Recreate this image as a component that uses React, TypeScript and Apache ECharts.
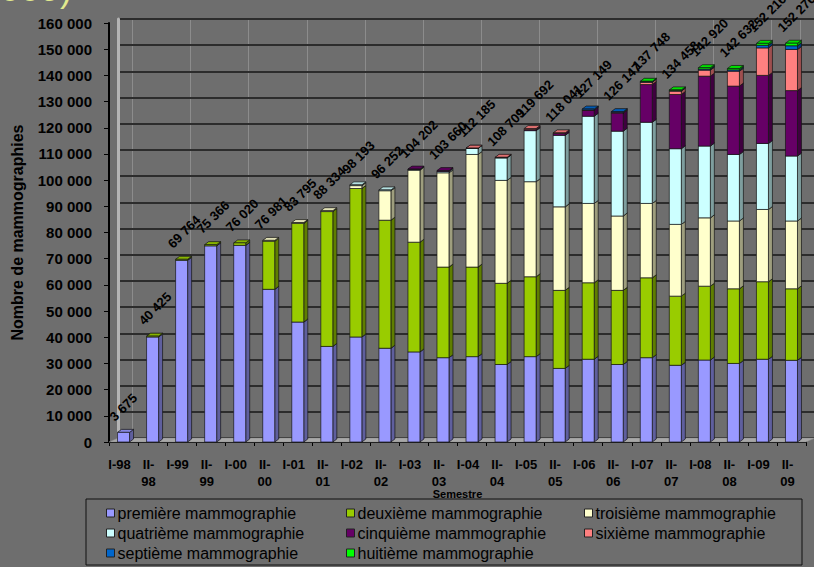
import { useEffect, useRef } from 'react';
import * as echarts from 'echarts';

// Semesters on the category axis
const semestres = [
  'I-98', 'II-98', 'I-99', 'II-99', 'I-00', 'II-00', 'I-01', 'II-01',
  'I-02', 'II-02', 'I-03', 'II-03', 'I-04', 'II-04', 'I-05', 'II-05',
  'I-06', 'II-06', 'I-07', 'II-07', 'I-08', 'II-08', 'I-09', 'II-09',
];

// Number of mammographies per rank, per semester
const premiere = [3675, 40100, 69400, 74900, 75100, 58300, 45800, 36500, 40100, 35800, 34400, 32200, 32600, 29600, 32600, 28100, 31600, 29600, 32200, 29300, 31300, 30000, 31600, 31200];
const deuxieme = [0, 325, 364, 466, 920, 18400, 37700, 51500, 56700, 48900, 41900, 34600, 34200, 31000, 30500, 29800, 29200, 28300, 30500, 26400, 28200, 28500, 29600, 27300];
const troisieme = [0, 0, 0, 0, 0, 281, 295, 334, 1100, 11250, 27500, 36000, 43000, 39300, 36300, 31900, 30300, 28400, 28400, 27400, 26100, 25900, 27600, 25900];
const quatrieme = [0, 0, 0, 0, 0, 0, 0, 0, 293, 302, 250, 500, 2300, 8600, 19500, 27300, 33300, 32400, 31000, 28900, 27400, 25400, 25200, 24800];
const cinquieme = [0, 0, 0, 0, 0, 0, 0, 0, 0, 0, 152, 360, 40, 100, 400, 750, 2300, 6900, 14400, 20700, 26700, 26100, 26000, 25000];
const sixieme = [0, 0, 0, 0, 0, 0, 0, 0, 0, 0, 0, 0, 45, 109, 392, 191, 100, 300, 900, 1300, 2300, 5700, 10500, 15700];
const septieme = [0, 0, 0, 0, 0, 0, 0, 0, 0, 0, 0, 0, 0, 0, 0, 0, 349, 247, 200, 200, 400, 500, 1000, 1400];
const huitieme = [0, 0, 0, 0, 0, 0, 0, 0, 0, 0, 0, 0, 0, 0, 0, 0, 0, 0, 148, 258, 520, 532, 716, 976];

const rangs = [
  { name: 'première mammographie', color: '#9999ff', values: premiere },
  { name: 'deuxième mammographie', color: '#99cc00', values: deuxieme },
  { name: 'troisième mammographie', color: '#ffffcc', values: troisieme },
  { name: 'quatrième mammographie', color: '#ccffff', values: quatrieme },
  { name: 'cinquième mammographie', color: '#660066', values: cinquieme },
  { name: 'sixième mammographie', color: '#ff8080', values: sixieme },
  { name: 'septième mammographie', color: '#0066cc', values: septieme },
  { name: 'huitième mammographie', color: '#00ff00', values: huitieme },
];

// Y axis range
const Y_MAX = 160000;
const Y_STEP = 10000;

const FONT = '"Liberation Sans", Arial, Helvetica, sans-serif';

// Plot layout: front plane and back wall (3D depth offset)
const FRONT = { left: 109, top: 23, width: 697, height: 419 };
const DEPTH_X = 9;
const DEPTH_Y = 4;
const BAND = FRONT.width / semestres.length;

// Column geometry
const BAR_W = 12;
const BAR_DX = 4;
const BAR_DY = 3;

const fmt = (n: number) => String(Math.round(n)).replace(/\B(?=(\d{3})+(?!\d))/g, ' ');

function shade(hex: string, f: number) {
  const n = parseInt(hex.slice(1), 16);
  const r = Math.round(((n >> 16) & 255) * f);
  const g = Math.round(((n >> 8) & 255) * f);
  const b = Math.round((n & 255) * f);
  return `rgb(${r},${g},${b})`;
}

export default function App() {
  const ref = useRef<HTMLDivElement>(null);

  useEffect(() => {
    const chart = echarts.init(ref.current!, null, { renderer: 'svg' });

    // cumulative stacking
    const cum = semestres.map(() => 0);
    const barSeries = rangs.map((r) => {
      const data = r.values.map((v, i) => {
        const lo = cum[i];
        cum[i] += v;
        return [i, lo, cum[i]];
      });
      const side = shade(r.color, 0.62);
      const top = shade(r.color, 0.88);
      return {
        type: 'custom',
        name: r.name,
        xAxisIndex: 0,
        yAxisIndex: 0,
        z: 3,
        itemStyle: { color: r.color },
        encode: { x: 0, y: [1, 2] },
        data,
        renderItem: (params: any, api: any) => {
          const lo = api.value(1);
          const hi = api.value(2);
          if (hi - lo <= 0) return null;
          const pLo = api.coord([api.value(0), lo]);
          const pHi = api.coord([api.value(0), hi]);
          const x0 = pLo[0] - BAR_W / 2;
          const yb = pLo[1];
          const yt = pHi[1];
          const stroke = { stroke: '#151515', lineWidth: 0.7 };
          return {
            type: 'group',
            children: [
              {
                type: 'polygon',
                shape: { points: [[x0 + BAR_W, yb], [x0 + BAR_W + BAR_DX, yb - BAR_DY], [x0 + BAR_W + BAR_DX, yt - BAR_DY], [x0 + BAR_W, yt]] },
                style: { fill: side, ...stroke },
              },
              {
                type: 'polygon',
                shape: { points: [[x0, yt], [x0 + BAR_DX, yt - BAR_DY], [x0 + BAR_W + BAR_DX, yt - BAR_DY], [x0 + BAR_W, yt]] },
                style: { fill: top, ...stroke },
              },
              {
                type: 'rect',
                shape: { x: x0, y: yt, width: BAR_W, height: yb - yt },
                style: { fill: r.color, ...stroke },
              },
            ],
          };
        },
      };
    });

    const totals = cum.map((t, i) => [i, t]);

    const labelSeries = {
      type: 'custom',
      name: 'totaux',
      xAxisIndex: 0,
      yAxisIndex: 0,
      z: 4,
      encode: { x: 0, y: 1 },
      data: totals,
      renderItem: (params: any, api: any) => {
        const p = api.coord([api.value(0), api.value(1)]);
        return {
          type: 'text',
          x: p[0] - BAR_W / 2 - 1,
          y: p[1] - 9,
          rotation: Math.PI / 4,
          style: {
            text: fmt(api.value(1)),
            font: `bold 13px ${FONT}`,
            fill: '#000',
            align: 'left',
            verticalAlign: 'bottom',
          },
        };
      },
    };

    const legendBase = {
      orient: 'vertical',
      top: 505,
      height: 70,
      padding: 0,
      icon: 'rect',
      itemWidth: 8,
      itemHeight: 8,
      itemGap: 4,
      itemStyle: { borderColor: '#222', borderWidth: 1 },
      textStyle: { fontFamily: FONT, fontSize: 16, color: '#000', lineHeight: 16, padding: [0, 0, 0, -2] },
      selectedMode: false,
    };

    const option: any = {
      animation: false,
      backgroundColor: '#6e6e6e',
      grid: [
        { ...FRONT },
        { left: FRONT.left + DEPTH_X, top: FRONT.top - DEPTH_Y, width: FRONT.width, height: FRONT.height },
        { left: FRONT.left + DEPTH_X + BAND / 2, top: FRONT.top - DEPTH_Y, width: FRONT.width - BAND, height: FRONT.height },
      ],
      xAxis: [
        {
          gridIndex: 0,
          type: 'category',
          data: semestres,
          boundaryGap: true,
          name: 'Semestre',
          nameLocation: 'middle',
          nameGap: 46,
          nameMoveOverlap: false,
          nameTextStyle: { fontFamily: FONT, fontWeight: 'bold', fontSize: 11, color: '#000', verticalAlign: 'top' },
          axisLine: { lineStyle: { color: '#000', width: 2 } },
          axisTick: { show: true, length: 4, lineStyle: { color: '#000' } },
          axisLabel: {
            interval: 0,
            formatter: (v: string) => v.replace('II-', 'II-\n'),
            fontFamily: FONT,
            fontWeight: 'bold',
            fontSize: 13,
            lineHeight: 17,
            color: '#000',
            margin: 14,
            padding: [0, 8, 0, 0],
          },
          splitLine: { show: false },
        },
        {
          gridIndex: 1,
          type: 'category',
          data: semestres,
          axisLine: { show: false },
          axisTick: { show: false },
          axisLabel: { show: false },
          splitLine: { show: false },
        },
        {
          gridIndex: 2,
          type: 'category',
          data: semestres.slice(1),
          axisLine: { show: false },
          axisTick: { show: false },
          axisLabel: { show: false },
          splitLine: { show: true, lineStyle: { color: '#8c8c8c', width: 1 } },
        },
      ],
      yAxis: [
        {
          gridIndex: 0,
          type: 'value',
          min: 0,
          max: Y_MAX,
          interval: Y_STEP,
          name: 'Nombre de mammographies',
          nameLocation: 'middle',
          nameGap: 84,
          nameTextStyle: { fontFamily: FONT, fontWeight: 'bold', fontSize: 16, color: '#000' },
          axisLine: { show: true, lineStyle: { color: '#000', width: 2 } },
          axisTick: { show: true, length: 5, lineStyle: { color: '#000' } },
          axisLabel: { formatter: (v: number) => fmt(v), fontFamily: FONT, fontWeight: 'bold', fontSize: 15, color: '#000', margin: 17 },
          splitLine: { show: false },
        },
        {
          gridIndex: 1,
          type: 'value',
          min: 0,
          max: Y_MAX,
          interval: Y_STEP,
          z: 1,
          axisLine: { show: true, lineStyle: { color: '#b4b4b4', width: 3 } },
          axisTick: { show: false },
          axisLabel: { show: false },
          splitLine: { show: true, lineStyle: { color: '#2c2c2c', width: 2 } },
        },
        {
          gridIndex: 2,
          type: 'value',
          min: 0,
          max: Y_MAX,
          show: false,
        },
      ],
      legend: [
        { ...legendBase, left: 106, data: [rangs[0].name, rangs[3].name, rangs[6].name] },
        { ...legendBase, left: 346, data: [rangs[1].name, rangs[4].name, rangs[7].name] },
        { ...legendBase, left: 584, data: [rangs[2].name, rangs[5].name] },
      ],
      graphic: [
        {
          type: 'polygon',
          z: 2,
          shape: {
            points: [
              [FRONT.left, FRONT.top + FRONT.height],
              [FRONT.left + FRONT.width, FRONT.top + FRONT.height],
              [FRONT.left + FRONT.width + DEPTH_X, FRONT.top + FRONT.height - DEPTH_Y],
              [FRONT.left + DEPTH_X, FRONT.top + FRONT.height - DEPTH_Y],
            ],
          },
          style: { fill: '#a8a8a8', stroke: '#8a8a8a', lineWidth: 0.5 },
        },
        {
          type: 'rect',
          z: 2,
          shape: { x: 86, y: 499, width: 716, height: 66 },
          style: { fill: 'none', stroke: '#111', lineWidth: 1 },
        },
        {
          type: 'text',
          z: 2,
          x: 72,
          y: 6,
          style: {
            text: '(1998-2009)',
            font: `36px ${FONT}`,
            fill: '#e2ea8e',
            align: 'right',
            verticalAlign: 'bottom',
          },
        },
      ],
      series: [...barSeries, labelSeries],
    };

    chart.setOption(option);
    return () => chart.dispose();
  }, []);

  return <div ref={ref} style={{ position: 'fixed', left: 0, top: 0, width: 814, height: 567 }} />;
}
